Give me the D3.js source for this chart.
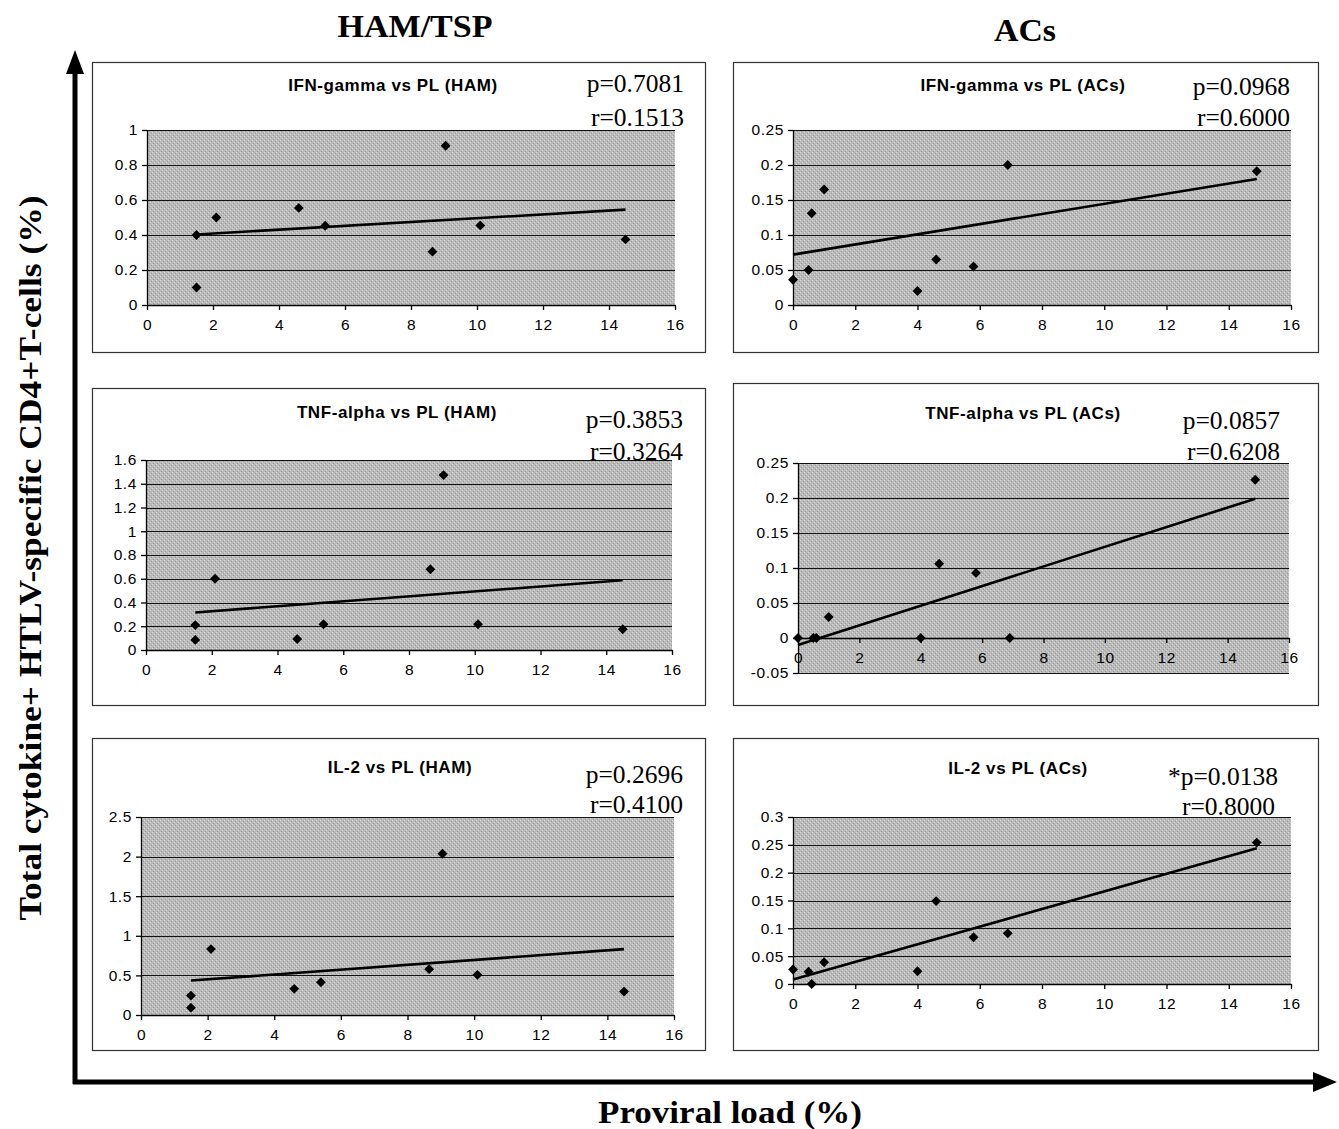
<!DOCTYPE html>
<html>
<head>
<meta charset="utf-8">
<script src="https://cdn.jsdelivr.net/npm/d3@7"></script>
<style>
  body { margin: 0; background: #fff; }
  svg { display: block; }
</style>
</head>
<body>
<svg id="fig" width="1339" height="1129"></svg>
<script>
// proviral load (%) per subject
const hamPL = [1.5, 1.5, 2.1, 4.6, 5.4, 8.65, 9.05, 10.1, 14.5];
const acsPL = [0, 0.5, 0.6, 1.0, 4.0, 4.6, 5.8, 6.9, 14.9];

// cytokine+ cells (%)
const hamIFN = [0.40, 0.10, 0.50, 0.555, 0.453, 0.305, 0.91, 0.455, 0.375];
const hamTNF = [0.21, 0.085, 0.60, 0.093, 0.217, 0.68, 1.473, 0.217, 0.175];
const hamIL2 = [0.245, 0.093, 0.832, 0.33, 0.414, 0.579, 2.036, 0.507, 0.296];
const acsIFN = [0.036, 0.05, 0.131, 0.165, 0.02, 0.065, 0.055, 0.20, 0.191];
const acsTNF = [0, 0, 0, 0.03, 0, 0.106, 0.093, 0, 0.226];
const acsIL2 = [0.026, 0.022, 0, 0.039, 0.023, 0.149, 0.084, 0.091, 0.254];

// trendline end points [x, y]
const trendHamIFN = [[1.5, 0.403], [14.5, 0.545]];
const trendHamTNF = [[1.5, 0.316], [14.5, 0.587]];
const trendHamIL2 = [[1.5, 0.435], [14.5, 0.832]];
const trendAcsIFN = [[0, 0.072], [14.9, 0.18]];
const trendAcsTNF = [[0, -0.01], [14.9, 0.199]];
const trendAcsIL2 = [[0, 0.008], [14.9, 0.244]];

// ticks
const xTicks = [0, 2, 4, 6, 8, 10, 12, 14, 16];
const yTicksHamIFN = [0, 0.2, 0.4, 0.6, 0.8, 1];
const yTicksHamTNF = [0, 0.2, 0.4, 0.6, 0.8, 1, 1.2, 1.4, 1.6];
const yTicksHamIL2 = [0, 0.5, 1, 1.5, 2, 2.5];
const yTicksAcsIFN = [0, 0.05, 0.1, 0.15, 0.2, 0.25];
const yTicksAcsTNF = [-0.05, 0, 0.05, 0.1, 0.15, 0.2, 0.25];
const yTicksAcsIL2 = [0, 0.05, 0.1, 0.15, 0.2, 0.25, 0.3];

const titles = ["IFN-gamma vs PL (HAM)", "IFN-gamma vs PL (ACs)", "TNF-alpha vs PL (HAM)",
                "TNF-alpha vs PL (ACs)", "IL-2 vs PL (HAM)", "IL-2 vs PL (ACs)"];
const pLabels = ["p=0.7081", "p=0.0968", "p=0.3853", "p=0.0857", "p=0.2696", "*p=0.0138"];
const rLabels = ["r=0.1513", "r=0.6000", "r=0.3264", "r=0.6208", "r=0.4100", "r=0.8000"];

let svg = d3.select("#fig")
let serif = "'Liberation Serif', 'Times New Roman', serif"
let sans = "'Liberation Sans', Arial, sans-serif"

// stippled grey like the scanned excel plot area
let pat = svg.append("defs").append("pattern")
    .attr("id", "stipple").attr("patternUnits", "userSpaceOnUse")
    .attr("width", 4).attr("height", 4)
pat.append("rect").attr("width", 4).attr("height", 4).attr("fill", "#bababa")
pat.append("rect").attr("x", 0).attr("y", 0).attr("width", 1).attr("height", 1).attr("fill", "#d8d8d8")
pat.append("rect").attr("x", 2).attr("y", 2).attr("width", 1).attr("height", 1).attr("fill", "#d8d8d8")
pat.append("rect").attr("x", 1).attr("y", 3).attr("width", 1).attr("height", 1).attr("fill", "#9a9a9a")
pat.append("rect").attr("x", 3).attr("y", 1).attr("width", 1).attr("height", 1).attr("fill", "#9a9a9a")

// layout of each panel (box + plot area), in page pixels
let panels = [
    {box: [92, 62, 705, 352], px: [147, 675], py: [130, 305], xs: hamPL, ys: hamIFN, trend: trendHamIFN, yt: yTicksHamIFN, tx: 393, ty: 91, prx: 684, py1: 92, py2: 126},
    {box: [733, 62, 1318, 352], px: [793, 1291], py: [130, 305], xs: acsPL, ys: acsIFN, trend: trendAcsIFN, yt: yTicksAcsIFN, tx: 1023, ty: 91, prx: 1290, py1: 95, py2: 126},
    {box: [92, 388, 705, 705], px: [146, 672], py: [460, 650], xs: hamPL, ys: hamTNF, trend: trendHamTNF, yt: yTicksHamTNF, tx: 397, ty: 418, prx: 683, py1: 428, py2: 460},
    {box: [733, 383, 1318, 705], px: [798, 1289], py: [463, 673], xs: acsPL, ys: acsTNF, trend: trendAcsTNF, yt: yTicksAcsTNF, tx: 1023, ty: 419, prx: 1280, py1: 429, py2: 460},
    {box: [92, 738, 705, 1050], px: [141, 674], py: [817, 1015], xs: hamPL, ys: hamIL2, trend: trendHamIL2, yt: yTicksHamIL2, tx: 400, ty: 773, prx: 683, py1: 783, py2: 813},
    {box: [733, 738, 1318, 1050], px: [793, 1291], py: [817, 984], xs: acsPL, ys: acsIL2, trend: trendAcsIL2, yt: yTicksAcsIL2, tx: 1018, ty: 774, prx: 1278, py1: 785, py2: 815}
]

panels.forEach(function (p, i) {
    let g = svg.append("g")

    g.append("rect")
        .attr("x", p.box[0] + 0.5).attr("y", p.box[1] + 0.5)
        .attr("width", p.box[2] - p.box[0]).attr("height", p.box[3] - p.box[1])
        .attr("fill", "#fff").attr("stroke", "#333").attr("stroke-width", 1.2)

    let x = d3.scaleLinear().domain([0, 16]).range(p.px)
    let y = d3.scaleLinear().domain(d3.extent(p.yt)).range([p.py[1], p.py[0]])

    g.append("rect")
        .attr("x", p.px[0]).attr("y", p.py[0])
        .attr("width", p.px[1] - p.px[0]).attr("height", p.py[1] - p.py[0])
        .attr("fill", "url(#stipple)")

    // gridlines
    g.selectAll("line.grid").data(p.yt).enter().append("line")
        .attr("x1", p.px[0]).attr("x2", p.px[1])
        .attr("y1", d => Math.round(y(d)) + 0.5).attr("y2", d => Math.round(y(d)) + 0.5)
        .attr("stroke", "#111").attr("stroke-width", 1)

    // y axis
    let ya = g.append("g")
        .attr("transform", "translate(" + p.px[0] + ",0)")
        .call(d3.axisLeft(y).tickValues(p.yt).tickSize(5).tickSizeOuter(0).tickFormat(d => String(d)))
    ya.selectAll("text").attr("font-family", sans).attr("font-size", 15.5).attr("fill", "#000")
        .attr("dx", -1).attr("letter-spacing", 0.6)
    ya.selectAll("line, path").attr("stroke", "#000").attr("stroke-width", 1.3)

    // x axis at y = 0
    let xa = g.append("g")
        .attr("transform", "translate(0," + y(0) + ")")
        .call(d3.axisBottom(x).tickValues(xTicks).tickSize(5).tickSizeOuter(0))
    xa.selectAll("text").attr("font-family", sans).attr("font-size", 15.5).attr("fill", "#000")
        .attr("dy", "1.1em").attr("letter-spacing", 0.6)
    xa.selectAll("line, path").attr("stroke", "#000").attr("stroke-width", 1.3)

    // trendline
    g.append("line")
        .attr("x1", x(p.trend[0][0])).attr("y1", y(p.trend[0][1]))
        .attr("x2", x(p.trend[1][0])).attr("y2", y(p.trend[1][1]))
        .attr("stroke", "#000").attr("stroke-width", 2.6)

    // points
    g.selectAll("path.pt").data(p.xs.map((v, k) => [v, p.ys[k]])).enter().append("path")
        .attr("d", d3.symbol().type(d3.symbolDiamond2).size(62))
        .attr("transform", d => "translate(" + x(d[0]) + "," + y(d[1]) + ")")
        .attr("fill", "#000")

    g.append("text")
        .attr("x", p.tx).attr("y", p.ty)
        .attr("text-anchor", "middle")
        .attr("font-family", sans).attr("font-weight", "bold").attr("font-size", 17)
        .attr("letter-spacing", 0.6)
        .text(titles[i])

    g.append("text")
        .attr("x", p.prx).attr("y", p.py1)
        .attr("text-anchor", "end")
        .attr("font-family", serif).attr("font-size", 25.5)
        .text(pLabels[i])
    g.append("text")
        .attr("x", i == 5 ? p.prx - 3 : p.prx).attr("y", p.py2)
        .attr("text-anchor", "end")
        .attr("font-family", serif).attr("font-size", 25.5)
        .text(rLabels[i])
})

// column headers
svg.append("text").attr("x", 415).attr("y", 37).attr("text-anchor", "middle")
    .attr("font-family", serif).attr("font-weight", "bold").attr("font-size", 32)
    .attr("textLength", 155).attr("lengthAdjust", "spacingAndGlyphs")
    .text("HAM/TSP")
svg.append("text").attr("x", 1025).attr("y", 41).attr("text-anchor", "middle")
    .attr("font-family", serif).attr("font-weight", "bold").attr("font-size", 32)
    .attr("textLength", 62).attr("lengthAdjust", "spacingAndGlyphs")
    .text("ACs")

// big axes with arrows
svg.append("line").attr("x1", 75).attr("y1", 1084).attr("x2", 75).attr("y2", 70)
    .attr("stroke", "#000").attr("stroke-width", 5)
svg.append("path").attr("d", "M75,50 L66,74 L84,74 Z").attr("fill", "#000")
svg.append("line").attr("x1", 73).attr("y1", 1082).attr("x2", 1315).attr("y2", 1082)
    .attr("stroke", "#000").attr("stroke-width", 5)
svg.append("path").attr("d", "M1337,1082 L1313,1072 L1313,1092 Z").attr("fill", "#000")

svg.append("text")
    .attr("transform", "translate(41,558) rotate(-90)")
    .attr("text-anchor", "middle")
    .attr("font-family", serif).attr("font-weight", "bold").attr("font-size", 31)
    .attr("textLength", 725).attr("lengthAdjust", "spacingAndGlyphs")
    .text("Total cytokine+ HTLV-specific CD4+T-cells (%)")

svg.append("text")
    .attr("x", 730).attr("y", 1123).attr("text-anchor", "middle")
    .attr("font-family", serif).attr("font-weight", "bold").attr("font-size", 32)
    .attr("textLength", 264).attr("lengthAdjust", "spacingAndGlyphs")
    .text("Proviral load (%)")
</script>
</body>
</html>
